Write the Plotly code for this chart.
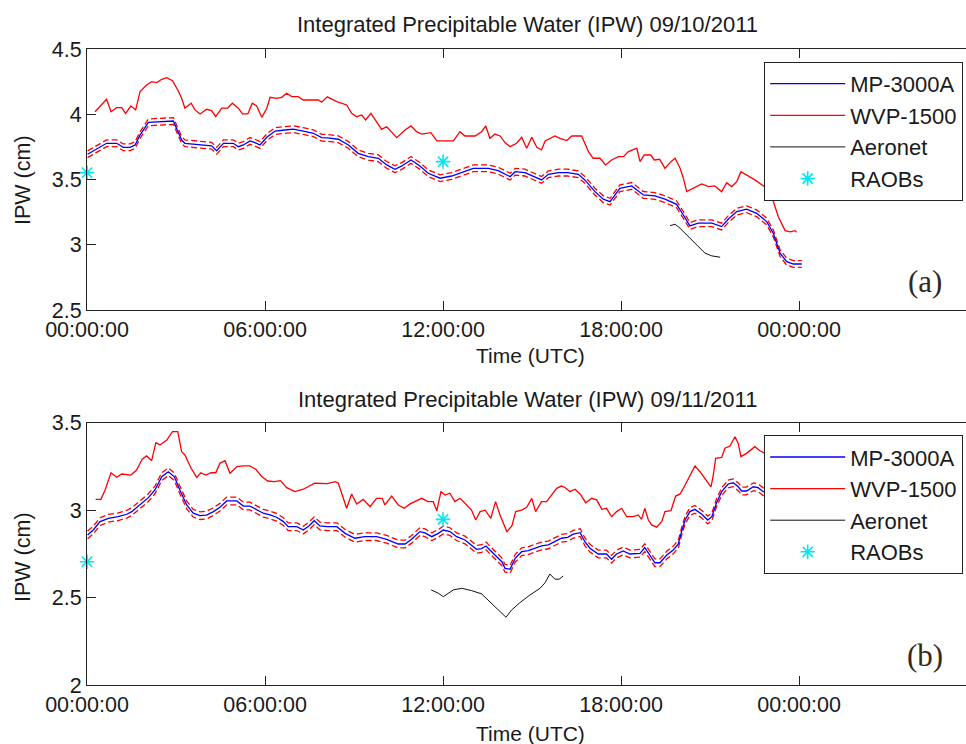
import plotly.graph_objects as go

# ---------------- data (hours UTC, IPW cm) ----------------
tick_hours = [0, 6, 12, 18, 24]
tick_text = ["00:00:00", "06:00:00", "12:00:00", "18:00:00", "00:00:00"]

# Panel (a) 09/10/2011
mp_a_t = [0.02, 0.38, 0.66, 1.0, 1.22, 1.45, 1.62, 1.79, 2.07, 2.91, 3.02, 3.19, 3.30, 4.2, 4.37, 4.6, 4.93,
          5.1, 5.27, 5.49, 5.66, 5.83, 6.06, 6.34, 6.67, 6.95, 7.29, 7.63, 7.91, 8.1, 8.47, 8.81, 9.14, 9.48,
          9.82, 10.1, 10.38, 10.61, 10.92, 11.22, 11.5, 11.9, 12.29, 12.63, 13.02, 13.53, 13.86, 14.26, 14.43,
          14.76, 15.1, 15.32, 15.55, 15.89, 16.2, 16.56, 16.78, 17.12, 17.4, 17.63, 17.96, 18.36, 18.75, 19.14,
          19.48, 19.87, 20.1, 20.32, 20.6, 21.06, 21.39, 21.61, 21.9, 22.23, 22.57, 22.91, 23.13, 23.36, 23.58,
          23.81, 24.09]
mp_a_v = [3.695, 3.741, 3.779, 3.779, 3.748, 3.748, 3.766, 3.843, 3.94, 3.95, 3.894, 3.804, 3.779, 3.76, 3.722,
          3.779, 3.779, 3.753, 3.766, 3.797, 3.784, 3.766, 3.825, 3.873, 3.881, 3.887, 3.873, 3.856, 3.822, 3.82,
          3.81, 3.766, 3.702, 3.676, 3.664, 3.613, 3.58, 3.605, 3.651, 3.605, 3.549, 3.511, 3.528, 3.554, 3.587,
          3.587, 3.569, 3.523, 3.561, 3.554, 3.523, 3.498, 3.541, 3.554, 3.554, 3.541, 3.498, 3.408, 3.35, 3.331,
          3.434, 3.452, 3.383, 3.375, 3.35, 3.311, 3.229, 3.145, 3.166, 3.166, 3.14, 3.196, 3.255, 3.273, 3.242,
          3.178, 3.089, 2.936, 2.871, 2.853, 2.853]
mp_a_unc = 0.026

wvp_a_t = [0.27, 0.44, 0.66, 0.81, 1.0, 1.17, 1.3, 1.48, 1.64, 1.79, 2.01, 2.18, 2.35, 2.52, 2.69, 2.88, 3.06,
           3.19, 3.30, 3.51, 3.64, 3.81, 4.03, 4.2, 4.34, 4.54, 4.74, 4.9, 5.1, 5.24, 5.42, 5.57, 5.72, 5.89,
           6.06, 6.17, 6.39, 6.56, 6.73, 6.9, 7.12, 7.29, 7.8, 7.91, 8.1, 8.42, 8.75, 8.92, 9.09, 9.26, 9.39,
           9.57, 9.76, 9.93, 10.1, 10.44, 10.72, 10.92, 11.11, 11.28, 11.59, 11.79, 12.35, 12.57, 12.74, 13.08,
           13.3, 13.44, 13.58, 13.75, 13.92, 14.09, 14.26, 14.48, 14.65, 14.82, 14.99, 15.16, 15.32, 15.44,
           15.77, 15.94, 16.17, 16.34, 16.67, 16.9, 17.06, 17.29, 17.48, 17.68, 17.91, 18.08, 18.25, 18.53,
           18.64, 18.78, 19.0, 19.12, 19.3, 19.48, 19.68, 19.82, 19.99, 20.1, 20.21, 20.43, 20.72, 20.94, 21.16,
           21.39, 21.56, 21.73, 21.9, 22.04, 22.23, 22.51, 22.8, 23.08, 23.3, 23.53, 23.7, 23.86, 23.92]
wvp_a_v = [4.021, 4.06, 4.117, 4.021, 4.052, 4.052, 4.009, 4.065, 4.035, 4.175, 4.226, 4.252, 4.245, 4.27, 4.282,
           4.259, 4.188, 4.124, 4.048, 4.086, 4.035, 4.004, 4.04, 4.03, 3.983, 4.048, 4.048, 4.086, 4.048, 4.004,
           4.004, 4.086, 4.065, 3.978, 4.048, 4.132, 4.124, 4.132, 4.163, 4.137, 4.137, 4.111, 4.111, 4.094,
           4.135, 4.098, 4.073, 4.009, 3.983, 3.996, 3.958, 4.009, 3.945, 3.886, 3.906, 3.822, 3.881, 3.912,
           3.868, 3.85, 3.86, 3.797, 3.797, 3.868, 3.835, 3.835, 3.868, 3.912, 3.817, 3.85, 3.835, 3.784, 3.753,
           3.779, 3.825, 3.741, 3.825, 3.748, 3.728, 3.797, 3.835, 3.817, 3.80, 3.835, 3.835, 3.715, 3.664,
           3.664, 3.613, 3.651, 3.676, 3.676, 3.715, 3.741, 3.638, 3.689, 3.689, 3.651, 3.656, 3.587, 3.638,
           3.664, 3.587, 3.511, 3.408, 3.434, 3.467, 3.447, 3.452, 3.408, 3.477, 3.447, 3.485, 3.561, 3.536,
           3.498, 3.452, 3.37, 3.216, 3.109, 3.1, 3.109, 3.097]

aer_a_t = [19.65, 19.82, 19.99, 20.27, 20.55, 20.83, 21.06, 21.34]
aer_a_v = [3.147, 3.158, 3.127, 3.063, 2.999, 2.936, 2.915, 2.905]

raob_a_t = [0.0, 12.0]
raob_a_v = [3.554, 3.638]

# Panel (b) 09/11/2011
mp_b_t = [0.02, 0.21, 0.44, 0.72, 1.05, 1.34, 1.51, 1.79, 2.07, 2.29, 2.52, 2.74, 2.94, 3.13, 3.36, 3.58, 3.81,
          4.03, 4.26, 4.48, 4.71, 5.05, 5.27, 5.49, 5.72, 5.94, 6.17, 6.39, 6.62, 6.78, 7.07, 7.29, 7.48, 7.66,
          7.85, 8.1, 8.42, 8.7, 9.03, 9.37, 9.76, 10.1, 10.49, 10.72, 10.94, 11.22, 11.39, 11.62, 11.84, 12.01,
          12.23, 12.46, 12.74, 12.96, 13.13, 13.3, 13.45, 13.58, 13.81, 13.98, 14.09, 14.26, 14.43, 14.65,
          14.87, 15.1, 15.32, 15.55, 15.77, 15.99, 16.2, 16.39, 16.62, 16.78, 16.95, 17.23, 17.51, 17.68,
          17.85, 18.07, 18.3, 18.53, 18.64, 18.8, 18.97, 19.14, 19.31, 19.54, 19.76, 19.93, 20.04, 20.16,
          20.32, 20.49, 20.72, 20.92, 21.06, 21.22, 21.39, 21.61, 21.78, 21.95, 22.06, 22.23, 22.46, 22.62,
          22.79, 23.0]
mp_b_v = [2.859, 2.887, 2.935, 2.954, 2.963, 2.977, 2.992, 3.03, 3.072, 3.116, 3.192, 3.22, 3.192, 3.116, 3.03,
          2.983, 2.969, 2.972, 2.992, 3.017, 3.053, 3.053, 3.024, 3.024, 3.001, 2.983, 2.973, 2.96, 2.935, 2.906,
          2.906, 2.887, 2.91, 2.94, 2.91, 2.906, 2.906, 2.868, 2.84, 2.849, 2.849, 2.834, 2.807, 2.807, 2.834,
          2.878, 2.871, 2.849, 2.868, 2.887, 2.878, 2.849, 2.83, 2.802, 2.777, 2.781, 2.796, 2.773, 2.735,
          2.706, 2.668, 2.663, 2.725, 2.763, 2.769, 2.783, 2.796, 2.802, 2.82, 2.84, 2.845, 2.863, 2.872,
          2.82, 2.783, 2.75, 2.75, 2.72, 2.75, 2.767, 2.75, 2.75, 2.754, 2.786, 2.744, 2.7, 2.7, 2.744, 2.773,
          2.807, 2.878, 2.944, 2.992, 3.005, 2.977, 2.944, 2.963, 3.043, 3.106, 3.15, 3.157, 3.134, 3.11, 3.11,
          3.134, 3.129, 3.106, 3.10]
mp_b_unc = 0.022

wvp_b_t = [0.29, 0.47, 0.61, 0.81, 1.0, 1.17, 1.48, 1.67, 1.86, 2.01, 2.18, 2.32, 2.46, 2.69, 2.88, 3.06, 3.19,
           3.3, 3.51, 3.7, 3.84, 4.0, 4.18, 4.34, 4.48, 4.65, 4.82, 5.05, 5.27, 5.49, 5.69, 5.89, 6.09, 6.31,
           6.52, 6.73, 7.01, 7.29, 7.68, 8.1, 8.36, 8.47, 8.64, 8.75, 8.92, 9.09, 9.31, 9.54, 9.76, 9.95, 10.04,
           10.27, 10.49, 10.69, 10.89, 11.05, 11.28, 11.5, 11.67, 11.79, 11.93, 12.07, 12.23, 12.4, 12.57,
           12.74, 12.96, 13.1, 13.25, 13.42, 13.61, 13.77, 13.92, 14.15, 14.32, 14.45, 14.65, 14.82, 14.99,
           15.12, 15.32, 15.49, 15.66, 15.83, 15.99, 16.11, 16.28, 16.45, 16.62, 16.81, 17.01, 17.18, 17.35,
           17.51, 17.68, 17.85, 18.02, 18.19, 18.41, 18.58, 18.69, 18.8, 18.92, 19.03, 19.2, 19.37, 19.48,
           19.68, 19.84, 19.99, 20.16, 20.32, 20.49, 20.66, 20.83, 21.03, 21.1, 21.19, 21.39, 21.5, 21.67,
           21.84, 21.95, 22.04, 22.23, 22.51, 22.68, 22.85]
wvp_b_v = [3.062, 3.062, 3.116, 3.214, 3.188, 3.207, 3.201, 3.23, 3.291, 3.31, 3.283, 3.386, 3.373, 3.401, 3.449,
           3.449, 3.334, 3.316, 3.24, 3.188, 3.214, 3.201, 3.214, 3.214, 3.268, 3.283, 3.211, 3.249, 3.253, 3.253,
           3.234, 3.192, 3.167, 3.163, 3.169, 3.129, 3.106, 3.12, 3.154, 3.152, 3.163, 3.154, 3.068, 3.011,
           3.093, 3.036, 3.062, 3.02, 3.068, 3.068, 3.03, 3.081, 3.03, 3.011, 3.036, 3.049, 3.068, 3.049, 3.049,
           2.997, 3.106, 3.087, 3.097, 3.049, 3.068, 3.04, 3.001, 2.944, 2.992, 3.0, 2.954, 3.049, 2.973, 2.878,
           2.91, 2.992, 3.001, 3.017, 3.068, 2.992, 3.049, 3.049, 3.087, 3.125, 3.138, 3.13, 3.106, 3.12, 3.093,
           3.043, 3.068, 3.059, 3.005, 3.011, 2.963, 2.992, 3.011, 2.963, 2.963, 2.973, 2.948, 3.011, 2.944,
           2.916, 2.903, 2.935, 2.992, 2.997, 3.081, 3.093, 3.144, 3.196, 3.253, 3.22, 3.182, 3.134, 3.192,
           3.297, 3.302, 3.354, 3.367, 3.42, 3.382, 3.306, 3.325, 3.363, 3.34, 3.325]

aer_b_t = [11.6, 11.84, 12.01, 12.18, 12.35, 12.63, 12.96, 13.3, 13.64, 13.92, 14.12, 14.31, 14.59, 14.93, 15.27,
           15.44, 15.6, 15.77, 15.91, 16.05]
aer_b_v = [2.545, 2.526, 2.506, 2.526, 2.545, 2.554, 2.541, 2.522, 2.469, 2.421, 2.389, 2.43, 2.472, 2.516, 2.554,
           2.586, 2.636, 2.606, 2.606, 2.624]

raob_b_t = [0.0, 12.0]
raob_b_v = [2.706, 2.948]

titles = ["Integrated Precipitable Water (IPW) 09/10/2011", "Integrated Precipitable Water (IPW) 09/11/2011"]
names = ["MP-3000A", "WVP-1500", "Aeronet", "RAOBs"]

# ---------------- figure ----------------
W, H = 966, 744
L = 87
FONT = "Liberation Sans, Arial, sans-serif"
TXT = "#1a1a1a"
BLUE, RED, BLACK, CYAN = "#0000ff", "#ff0000", "#111111", "#00e8f0"

def px_x(x):
    return (x - L) / (W - L)

def px_y(y):
    return 1 - y / H

fig = go.Figure()

panels = [
    dict(mp=(mp_a_t, mp_a_v, mp_a_unc), wvp=(wvp_a_t, wvp_a_v), aer=(aer_a_t, aer_a_v),
         raob=(raob_a_t, raob_a_v), xa="x", ya="y", legend="legend"),
    dict(mp=(mp_b_t, mp_b_v, mp_b_unc), wvp=(wvp_b_t, wvp_b_v), aer=(aer_b_t, aer_b_v),
         raob=(raob_b_t, raob_b_v), xa="x2", ya="y2", legend="legend2"),
]

for p in panels:
    t, v, u = p["mp"]
    common = dict(xaxis=p["xa"], yaxis=p["ya"], legend=p["legend"])
    fig.add_trace(go.Scatter(x=t, y=[a + u for a in v], mode="lines", showlegend=False,
                             line=dict(color=RED, width=1.3, dash="6px,3px"), hoverinfo="skip", **common))
    fig.add_trace(go.Scatter(x=t, y=[a - u for a in v], mode="lines", showlegend=False,
                             line=dict(color=RED, width=1.3, dash="6px,3px"), hoverinfo="skip", **common))
    fig.add_trace(go.Scatter(x=t, y=v, mode="lines", name=names[0], legendgroup="g1",
                             line=dict(color=BLUE, width=1.3), **common))
    fig.add_trace(go.Scatter(x=p["wvp"][0], y=p["wvp"][1], mode="lines", name=names[1], legendgroup="g2",
                             line=dict(color=RED, width=1.3), **common))
    fig.add_trace(go.Scatter(x=p["aer"][0], y=p["aer"][1], mode="lines", name=names[2], legendgroup="g3",
                             line=dict(color=BLACK, width=1.0), **common))
    fig.add_trace(go.Scatter(x=p["raob"][0], y=p["raob"][1], mode="markers", name=names[3], legendgroup="g4",
                             cliponaxis=False,
                             marker=dict(symbol="asterisk-open", size=12, color=CYAN,
                                         line=dict(color=CYAN, width=1.6)), **common))

hours_span = (W - L) / 29.67
axis_common = dict(showgrid=False, zeroline=False, showline=True, linecolor="#222222", linewidth=1.2,
                   ticks="inside", ticklen=9, tickwidth=1.2, tickcolor="#222222", automargin=False,
                   tickfont=dict(family=FONT, size=21.5, color=TXT))
xaxis_def = dict(axis_common, range=[0, hours_span], tickvals=tick_hours, ticktext=tick_text, mirror="ticks")

dom_a = [px_y(310), px_y(49.3)]
dom_b = [px_y(685.3), px_y(422.7)]

leg_common = dict(xanchor="left", yanchor="top", bgcolor="white", bordercolor="#222222", borderwidth=1.2,
                  font=dict(family=FONT, size=22, color=TXT), traceorder="grouped", tracegroupgap=0,
                  itemwidth=75)

fig.update_layout(
    width=W, height=H,
    margin=dict(l=L, r=0, t=0, b=0, autoexpand=False),
    paper_bgcolor="white", plot_bgcolor="white",
    font=dict(family=FONT, size=21, color=TXT),
    xaxis=dict(xaxis_def, anchor="y", domain=[0, 1]),
    xaxis2=dict(xaxis_def, anchor="y2", domain=[0, 1]),
    yaxis=dict(axis_common, domain=dom_a, range=[2.5, 4.5], tickvals=[2.5, 3, 3.5, 4, 4.5],
               ticktext=["2.5", "3", "3.5", "4", "4.5"], anchor="x"),
    yaxis2=dict(axis_common, domain=dom_b, range=[2, 3.5], tickvals=[2, 2.5, 3, 3.5],
                ticktext=["2", "2.5", "3", "3.5"], anchor="x2"),
    legend=dict(leg_common, x=px_x(764), y=px_y(61.7)),
    legend2=dict(leg_common, x=px_x(764), y=px_y(435)),
    showlegend=True,
)

ann = []
for title, ty in zip(titles, [25, 399]):
    ann.append(dict(text=title, x=px_x(527), y=px_y(ty), xref="paper", yref="paper",
                    xanchor="center", yanchor="middle", showarrow=False,
                    font=dict(family=FONT, size=22, color=TXT)))
for ty in [355, 733]:
    ann.append(dict(text="Time (UTC)", x=px_x(530), y=px_y(ty), xref="paper", yref="paper",
                    xanchor="center", yanchor="middle", showarrow=False,
                    font=dict(family=FONT, size=21, color=TXT)))
for ty in [180, 557]:
    ann.append(dict(text="IPW (cm)", x=px_x(23), y=px_y(ty), xref="paper", yref="paper",
                    xanchor="center", yanchor="middle", showarrow=False, textangle=-90,
                    font=dict(family=FONT, size=21.5, color=TXT)))
for lab, ty in [("(a)", 281), ("(b)", 655)]:
    ann.append(dict(text=lab, x=px_x(925), y=px_y(ty), xref="paper", yref="paper",
                    xanchor="center", yanchor="middle", showarrow=False,
                    font=dict(family="Liberation Serif, Times New Roman, serif", size=31, color="#33291a")))
fig.update_layout(annotations=ann)

fig.write_html("out.html", config={"displayModeBar": False},
               post_script="document.body.style.margin='0';document.body.style.overflow='hidden';")
